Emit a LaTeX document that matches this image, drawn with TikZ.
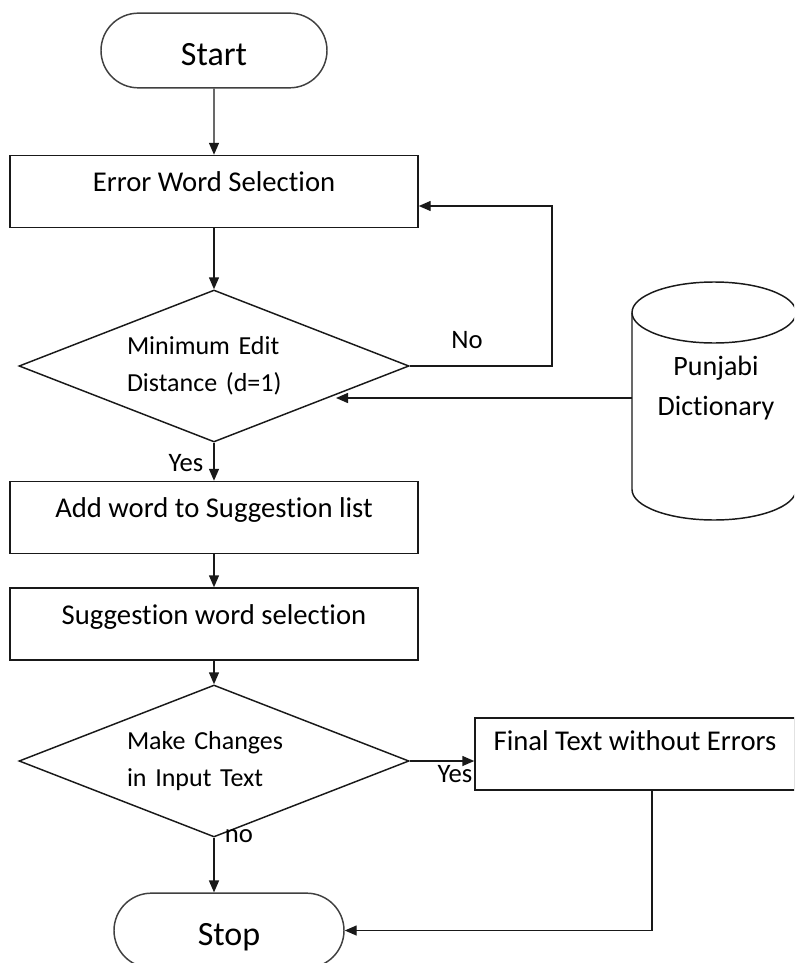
\documentclass[tikz,border=0pt]{standalone}
\usepackage{fontspec}
\setmainfont{Carlito}[Ligatures=NoCommon]
\newfontfamily\diafont{Carlito}[Ligatures=NoCommon, WordSpace=0.45]
\usetikzlibrary{shapes.geometric,shapes.misc,arrows.meta}
\begin{document}
\begin{tikzpicture}[x=0.75pt,y=-0.75pt,
  line/.style={draw=black!90, line width=1.1pt},
  arr/.style={line, -{Triangle[length=9pt,width=7.5pt]}},
  terminal/.style={rounded rectangle, draw=black!75, line width=1.1pt, minimum width=169.5pt, minimum height=56pt, font=\fontsize{25.5}{30}\selectfont, inner sep=0pt, text height=22pt, text depth=0pt},
  procbox/.style={rectangle, draw=black!90, line width=1.1pt, minimum width=306pt, minimum height=54pt, font=\fontsize{21.5}{26}\selectfont, text height=12pt, text depth=12pt, inner sep=0pt},
  decision/.style={diamond, draw=black!90, line width=1.1pt, minimum width=292.5pt, minimum height=114pt, aspect=2.57, inner sep=0pt, text width=130.5pt, align=left, font=\diafont\fontsize{19.5}{27.75}\selectfont},
  storeline/.style={draw=black!90, line width=1.1pt},
  lbl/.style={font=\fontsize{20}{24}\selectfont, inner sep=0pt}
]
\clip (0,0) rectangle (794,963);
\fill[white] (0,0) rectangle (794,963);

\node[terminal] (start) at (214,50.5) {Start};
\node[procbox] (ews) at (214,191.5) {Error Word Selection};
\node[decision] (d1) at (214,366) {Minimum Edit\\Distance (d=1)};
\node[procbox] (add) at (214,517.5) {Add word to Suggestion list};
\node[procbox] (sug) at (214,624) {Suggestion word selection};
\node[decision] (d2) at (214,761) {Make Changes\\in Input Text};
\node[procbox, minimum width=240pt, text depth=18pt] (fin) at (635,754) {Final Text without Errors};
\node[terminal, minimum width=172.5pt] (stop) at (229,930.5) {Stop};

% Punjabi Dictionary (cylinder)
\draw[storeline] (632,312.5) -- (632,489.5)
  arc[start angle=180, end angle=360, x radius=61.5pt, y radius=22.875pt]
  -- (796,312.5)
  arc[start angle=0, end angle=180, x radius=61.5pt, y radius=22.875pt] -- cycle;
\draw[storeline] (632,312.5)
  arc[start angle=180, end angle=360, x radius=61.5pt, y radius=22.875pt];
\node[align=center, inner sep=0pt, font=\fontsize{21}{30}\selectfont] (dict) at (716,388) {Punjabi\\Dictionary};
\coordinate (dictL) at (632,398);

\coordinate (loopTop) at (552,206);
\coordinate (fdrop) at ([xshift=12.75pt]fin.south);

\draw[arr] (start) -- (ews);
\draw[arr] (ews) -- (d1);
\draw[arr] (d1) -- (add);
\draw[arr] (add) -- (sug);
\draw[arr] (sug) -- (d2);
\draw[arr] (d2) -- (stop.north -| d2.south);
\draw[arr] (d1.east) -| (loopTop) -- (loopTop -| ews.east);
\draw[arr] (dictL) -- (dictL -| 336,0);
\draw[arr] (d2.east) -- (d2.east -| fin.west);
\draw[arr] (fdrop) |- (stop.east);

\node[lbl] (lno) at (467,340) {No};
\node[lbl] (lyes1) at (186,463) {Yes};
\node[lbl] (lyes2) at (455,774) {Yes};
\node[lbl] (lno2) at (239,836) {no};
\end{tikzpicture}
\end{document}
